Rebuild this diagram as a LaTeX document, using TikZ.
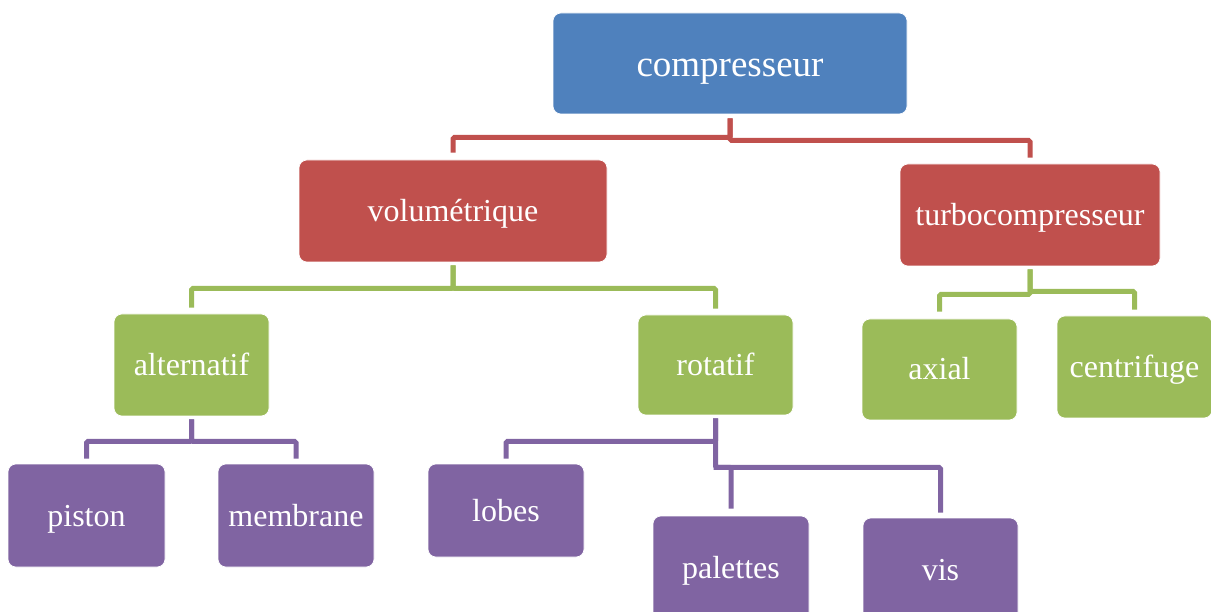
\documentclass[tikz,border=0pt]{standalone}
\usepackage{fontspec}
\setmainfont{Liberation Serif}
\definecolor{cblue}{HTML}{4F81BD}
\definecolor{cred}{HTML}{C0504D}
\definecolor{cgreen}{HTML}{9BBB59}
\definecolor{cpurple}{HTML}{8064A2}
\tikzset{
  box/.style={rectangle, rounded corners=8pt, inner sep=0pt, text=white,
    font=\fontsize{32}{37}\selectfont, text height=23pt, text depth=2pt,
    draw=white, line width=0.6pt},
  bluebox/.style={box, fill=cblue, font=\fontsize{37}{43}\selectfont,
    text height=27pt, text depth=0pt},
  redbox/.style={box, fill=cred},
  greenbox/.style={box, fill=cgreen},
  purplebox/.style={box, fill=cpurple},
  link/.style={line width=5pt, rounded corners=1.5pt},
  rlink/.style={link, draw=cred},
  glink/.style={link, draw=cgreen},
  plink/.style={link, draw=cpurple},
}
\begin{document}
\begin{tikzpicture}[x=1pt,y=-1pt]
\useasboundingbox (0,0) rectangle (1211,612);
\begin{scope}
\clip (0,0) rectangle (1211,612);
% nodes: center (x,y), width, height
\node[bluebox, minimum width=354pt, minimum height=101pt] (cmp) at (730,63.5) {compresseur};
\node[redbox, minimum width=308pt, minimum height=102pt] (vol) at (453,211) {volumétrique};
\node[redbox, minimum width=260pt, minimum height=102pt] (tur) at (1030,215) {turbocompresseur};
\node[greenbox, minimum width=155pt, minimum height=102pt] (alt) at (191.5,365) {alternatif};
\node[greenbox, minimum width=155pt, minimum height=100pt] (rot) at (715.5,365) {rotatif};
\node[greenbox, minimum width=155pt, minimum height=101pt] (axi) at (939.5,369.5) {axial};
\node[greenbox, minimum width=155pt, minimum height=102pt] (cen) at (1134.5,367) {centrifuge};
\node[purplebox, minimum width=157pt, minimum height=103pt] (pis) at (86.5,515.5) {piston};
\node[purplebox, minimum width=156pt, minimum height=103pt] (mem) at (296,515.5) {membrane};
\node[purplebox, minimum width=156pt, minimum height=93pt] (lob) at (506,510.5) {lobes};
\node[purplebox, minimum width=156pt, minimum height=104pt] (pal) at (731,568) {palettes};
\node[purplebox, minimum width=155pt, minimum height=104pt] (vis) at (940.5,570) {vis};
% red links
\draw[rlink] ([yshift=-4pt]cmp.south) -- ++(0,19) -| ([yshift=7pt]vol.north);
\draw[rlink] ([yshift=-4pt]cmp.south) -- ++(0,22) -| ([yshift=6pt]tur.north);
% green links
\draw[glink] ([yshift=-3pt]vol.south) -- ++(0,23) -| ([yshift=6pt]alt.north);
\draw[glink] ([yshift=-3pt]vol.south) -- ++(0,23) -| ([yshift=6pt]rot.north);
\draw[glink] ([yshift=-3pt]tur.south) -- ++(0,25) -| ([yshift=7pt]axi.north);
\draw[glink] ([yshift=-3pt]tur.south) -- ++(0,22) -| ([yshift=6pt]cen.north);
% purple links
\draw[plink] ([yshift=-3pt]alt.south) -- ++(0,22) -| ([yshift=5pt]pis.north);
\draw[plink] ([yshift=-3pt]alt.south) -- ++(0,22) -| ([yshift=5pt]mem.north);
\draw[plink] ([yshift=-3pt]rot.south) -- ++(0,23) -| ([yshift=5pt]lob.north);
\coordinate (rj) at ([yshift=-52pt]rot.south);
\draw[plink] ([yshift=-3pt]rot.south) -- (rj) -| ([yshift=5pt]vis.north);
\draw[plink] ([xshift=-2pt]rj) -| ([yshift=7pt]pal.north);
\end{scope}
\end{tikzpicture}
\end{document}
